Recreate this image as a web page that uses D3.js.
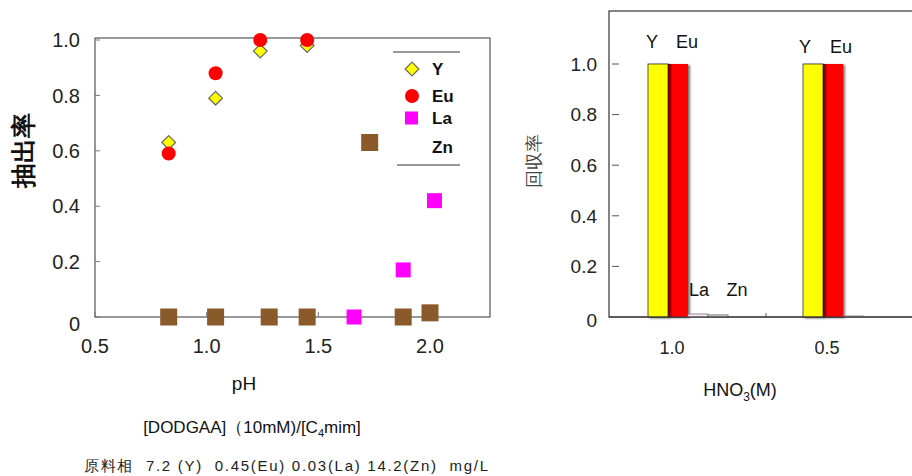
<!DOCTYPE html>
<html>
<head>
<meta charset="utf-8">
<script src="https://cdn.jsdelivr.net/npm/d3@7"></script>
<style>
  body { margin: 0; background: #fff; }
  text { font-family: "Liberation Sans", Arial, sans-serif; }
</style>
</head>
<body>
<div id="chart"></div>
<script>
  // left panel: extraction vs pH
  const yPH = [0.83, 1.04, 1.24, 1.45];
  const yVal = [0.63, 0.79, 0.96, 0.98];
  const euPH = [0.83, 1.04, 1.24, 1.45];
  const euVal = [0.59, 0.88, 1.0, 1.0];
  const laPH = [1.66, 1.88, 2.02];
  const laVal = [0.0, 0.17, 0.42];
  const znPH = [0.83, 1.04, 1.28, 1.45, 1.73, 1.88, 2.0];
  const znVal = [0, 0, 0, 0, 0.63, 0, 0.015];
  const leftYTicks = [0, 0.2, 0.4, 0.6, 0.8, 1.0];
  const leftXTicks = [0.5, 1.0, 1.5, 2.0];

  // right panel: recovery vs HNO3
  const acids = ['1.0', '0.5'];
  const metals = ['Y', 'Eu', 'La', 'Zn'];
  const recY = [1.0, 1.0];
  const recEu = [1.0, 1.0];
  const recLa = [0.012, 0.004];
  const recZn = [0.008, 0.0];
  const rightYTicks = [0, 0.2, 0.4, 0.6, 0.8, 1.0];

  const W = 912, H = 476;
  const svg = d3.select('#chart').append('svg')
    .attr('width', W).attr('height', H);

  const defs = svg.append('defs');
  const grad = defs.append('linearGradient').attr('id', 'redGrad');
  grad.append('stop').attr('offset', '0%').attr('stop-color', '#4a0000');
  grad.append('stop').attr('offset', '14%').attr('stop-color', '#b00000');
  grad.append('stop').attr('offset', '22%').attr('stop-color', '#ff0000');
  grad.append('stop').attr('offset', '100%').attr('stop-color', '#ff0000');
  const sh = defs.append('filter').attr('id', 'shadow')
    .attr('x', '-20%').attr('y', '-5%').attr('width', '160%').attr('height', '110%');
  sh.append('feDropShadow').attr('dx', 2).attr('dy', 1).attr('stdDeviation', 1.2)
    .attr('flood-color', '#000').attr('flood-opacity', 0.55);

  // ---------- left chart ----------
  const L = { left: 95, right: 490, top: 38, bottom: 317 };
  const x1 = d3.scaleLinear().domain([0.5, 2.0]).range([95, 430]);
  const y1 = d3.scaleLinear().domain([0, 1]).range([317, 40]);

  const g1 = svg.append('g');
  g1.append('rect')
    .attr('x', L.left).attr('y', L.top)
    .attr('width', L.right - L.left).attr('height', L.bottom - L.top)
    .attr('fill', 'none').attr('stroke', '#555').attr('stroke-width', 1.2);

  g1.selectAll('.ytl').data(leftYTicks).join('text')
    .attr('x', 80).attr('y', d => y1(d) + (d === 0 ? 7 : 0))
    .attr('dy', '0.36em').attr('text-anchor', 'end')
    .attr('font-size', 20).attr('fill', '#222')
    .text(d => d === 0 ? '0' : d3.format('.1f')(d));
  g1.selectAll('.ytk').data(leftYTicks).join('line')
    .attr('x1', L.left).attr('x2', L.left + 5)
    .attr('y1', d => y1(d)).attr('y2', d => y1(d))
    .attr('stroke', '#777');

  g1.selectAll('.xtl').data(leftXTicks).join('text')
    .attr('x', d => x1(d)).attr('y', 353)
    .attr('text-anchor', 'middle')
    .attr('font-size', 20).attr('fill', '#222')
    .text(d => d3.format('.1f')(d));
  g1.selectAll('.xtk').data(leftXTicks).join('line')
    .attr('x1', d => x1(d)).attr('x2', d => x1(d))
    .attr('y1', L.bottom).attr('y2', L.bottom - 5)
    .attr('stroke', '#777');

  // Zn squares (drawn first, beneath)
  g1.selectAll('.zn').data(znPH).join('rect')
    .attr('x', d => x1(d) - 8.5).attr('y', (d, i) => y1(znVal[i]) - 8.5)
    .attr('width', 17).attr('height', 17)
    .attr('fill', '#8a5a2b');
  g1.selectAll('.la').data(laPH).join('rect')
    .attr('x', d => x1(d) - 7.5).attr('y', (d, i) => y1(laVal[i]) - 7.5)
    .attr('width', 15).attr('height', 15)
    .attr('fill', '#ff00ff');
  const diamond = d3.symbol().type(d3.symbolDiamond2).size(120);
  g1.selectAll('.yd').data(yPH).join('path')
    .attr('d', diamond)
    .attr('transform', (d, i) => `translate(${x1(d)},${y1(yVal[i])})`)
    .attr('fill', '#ffff00').attr('stroke', '#666').attr('stroke-width', 1.2);
  g1.selectAll('.eu').data(euPH).join('circle')
    .attr('cx', d => x1(d)).attr('cy', (d, i) => y1(euVal[i]))
    .attr('r', 7).attr('fill', '#ff0000');

  // legend
  const lg = g1.append('g');
  lg.append('line').attr('x1', 393).attr('x2', 460).attr('y1', 52).attr('y2', 52).attr('stroke', '#333');
  lg.append('line').attr('x1', 397).attr('x2', 460).attr('y1', 165).attr('y2', 165).attr('stroke', '#333');
  const legRows = [69, 96, 118, 147];
  lg.append('path').attr('d', diamond)
    .attr('transform', `translate(412,${legRows[0]})`)
    .attr('fill', '#ffff00').attr('stroke', '#666').attr('stroke-width', 1.2);
  lg.append('circle').attr('cx', 412).attr('cy', legRows[1]).attr('r', 7).attr('fill', '#ff0000');
  lg.append('rect').attr('x', 405).attr('y', legRows[2] - 6.5).attr('width', 13).attr('height', 13).attr('fill', '#ff00ff');
  lg.selectAll('.lt').data(metals).join('text')
    .attr('x', 432).attr('y', (d, i) => legRows[i]).attr('dy', '0.36em')
    .attr('font-size', 17).attr('font-weight', 'bold').attr('fill', '#111')
    .text(d => d);

  g1.append('text')
    .attr('transform', 'translate(32,150) rotate(-90)')
    .attr('text-anchor', 'middle')
    .attr('font-family', '"Noto Sans CJK JP", sans-serif')
    .attr('font-size', 25).attr('font-weight', 'bold').attr('fill', '#111')
    .text('抽出率');

  g1.append('text').attr('x', 244).attr('y', 390).attr('text-anchor', 'middle')
    .attr('font-size', 19).attr('fill', '#111').text('pH');

  const sub = g1.append('text').attr('x', 252).attr('y', 433).attr('text-anchor', 'middle')
    .attr('font-size', 17).attr('fill', '#111');
  sub.append('tspan').text('[DODGAA]（10mM)/[C');
  sub.append('tspan').attr('font-size', 11).attr('dy', 4).text('4');
  sub.append('tspan').attr('dy', -4).text('mim]');

  g1.append('text').attr('x', 84).attr('y', 471)
    .attr('font-family', '"Noto Sans CJK JP", monospace')
    .attr('font-size', 15).attr('fill', '#222')
    .attr('textLength', 404).attr('lengthAdjust', 'spacing')
    .style('white-space', 'pre')
    .text('原料相  7.2 (Y)  0.45(Eu) 0.03(La) 14.2(Zn)  mg/L');

  // ---------- right chart ----------
  const R = { left: 609, right: 930, top: 11, bottom: 317 };
  const y2 = d3.scaleLinear().domain([0, 1]).range([317, 64]);
  const xg = d3.scaleOrdinal().domain(acids).range([648, 803]);
  const bw = 20;

  const g2 = svg.append('g');
  g2.append('rect')
    .attr('x', R.left).attr('y', R.top)
    .attr('width', R.right - R.left).attr('height', R.bottom - R.top)
    .attr('fill', 'none').attr('stroke', '#333').attr('stroke-width', 1.2);

  g2.selectAll('.ytl').data(rightYTicks).join('text')
    .attr('x', 597).attr('y', d => y2(d) + (d === 0 ? 3 : 0))
    .attr('dy', '0.36em').attr('text-anchor', 'end')
    .attr('font-size', 19).attr('fill', '#222')
    .text(d => d === 0 ? '0' : d3.format('.1f')(d));
  g2.selectAll('.ytk').data(rightYTicks.slice(1)).join('line')
    .attr('x1', 612).attr('x2', 619)
    .attr('y1', d => y2(d)).attr('y2', d => y2(d))
    .attr('stroke', '#555');
  g2.append('line').attr('x1', 766).attr('x2', 766).attr('y1', 317).attr('y2', 313).attr('stroke', '#555');

  const series = [
    { name: 'Y', vals: recY, fill: '#ffff00', stroke: '#333' },
    { name: 'Eu', vals: recEu, fill: 'url(#redGrad)', stroke: 'none' },
    { name: 'La', vals: recLa, fill: '#fbe6fb', stroke: '#777' },
    { name: 'Zn', vals: recZn, fill: '#eeeeee', stroke: '#555' }
  ];
  series.forEach((s, si) => {
    g2.selectAll('.b' + si).data(acids).join('rect')
      .attr('x', d => xg(d) + si * bw)
      .attr('y', (d, i) => y2(s.vals[i]))
      .attr('width', bw)
      .attr('height', (d, i) => Math.max(0, 317 - y2(s.vals[i])))
      .attr('fill', s.fill)
      .attr('stroke', (d, i) => s.vals[i] > 0 ? s.stroke : 'none')
      .attr('stroke-width', 0.8)
      .attr('filter', si < 2 ? 'url(#shadow)' : null);
  });
  // axis line on top of bars' base
  g2.append('line').attr('x1', R.left).attr('x2', W).attr('y1', 317).attr('y2', 317)
    .attr('stroke', '#333').attr('stroke-width', 1.2);

  // bar labels (offsets from group start)
  const barLabels = [
    { g: '1.0', t: 'Y', dx: 4, y: 42 }, { g: '1.0', t: 'Eu', dx: 39, y: 42 },
    { g: '0.5', t: 'Y', dx: 2, y: 47 }, { g: '0.5', t: 'Eu', dx: 38, y: 47 },
    { g: '1.0', t: 'La', dx: 51, y: 290 }, { g: '1.0', t: 'Zn', dx: 89, y: 290 }
  ];
  g2.selectAll('.bl').data(barLabels).join('text')
    .attr('x', d => xg(d.g) + d.dx)
    .attr('y', d => d.y).attr('dy', '0.36em')
    .attr('text-anchor', 'middle')
    .attr('font-size', 18).attr('fill', '#111')
    .text(d => d.t);

  g2.selectAll('.xtl').data(acids).join('text')
    .attr('x', d => xg(d) + 24).attr('y', 354)
    .attr('text-anchor', 'middle')
    .attr('font-size', 18).attr('fill', '#222')
    .text(d => d);

  const hx = g2.append('text').attr('x', 740).attr('y', 396).attr('text-anchor', 'middle')
    .attr('font-size', 18).attr('fill', '#111');
  hx.append('tspan').text('HNO');
  hx.append('tspan').attr('font-size', 12).attr('dy', 5).text('3');
  hx.append('tspan').attr('dy', -5).text('(M)');

  g2.append('text')
    .attr('transform', 'translate(540,161) rotate(-90)')
    .attr('text-anchor', 'middle')
    .attr('font-family', '"Noto Sans CJK JP", sans-serif')
    .attr('font-size', 18).attr('fill', '#444')
    .text('回収率');
</script>
</body>
</html>
